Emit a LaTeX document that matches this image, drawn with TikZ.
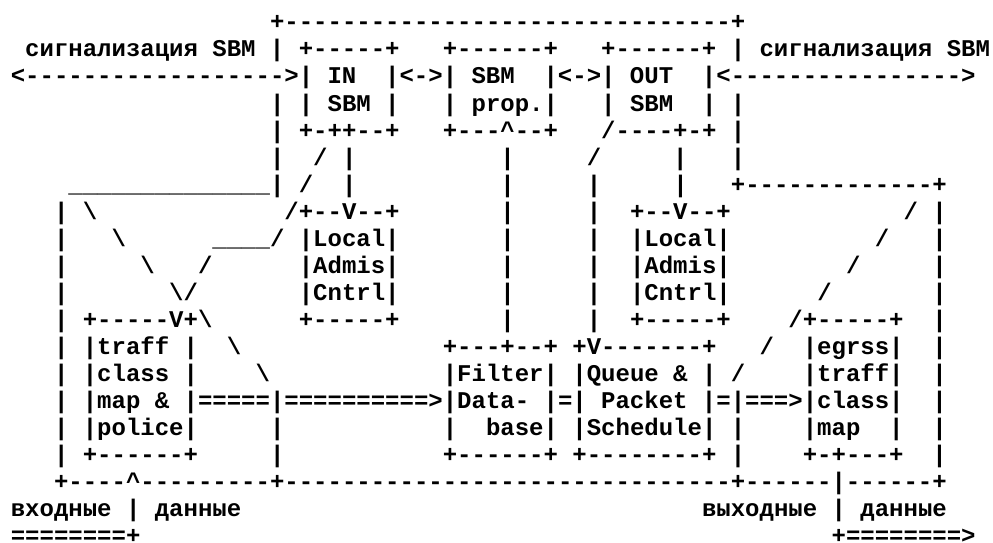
\documentclass[tikz,border=0pt]{standalone}
\usepackage{fontspec}
\setmonofont{Liberation Mono}
\usepackage{tikz}

% blank run of n character cells
\newcommand{\sk}[1]{\hspace*{\dimexpr 0.6em*#1\relax}}

\begin{document}
\begin{tikzpicture}[x=1pt, y=1pt,
		asciirow/.style={anchor=base west, inner sep=0pt, outer sep=0pt,
			font=\fontsize{24}{27}\selectfont\ttfamily\bfseries}]
			\useasboundingbox (0,0) rectangle (993,-543);

			% Draw the SBM part at the top
			\node[asciirow] (row1) at (10.8, -30) {\sk{18}+-------------------------------+};
			\node[asciirow] (row2) at (10.8, -57) {\sk{1}сигнализация SBM | +-----+\sk{3}+------+\sk{3}+------+ | сигнализация SBM};
			\node[asciirow] (row3) at (10.8, -84) {<------------------>| IN\sk{2}|<->| SBM\sk{2}|<->| OUT\sk{2}|<---------------->};
			\node[asciirow] (row4) at (10.8, -111) {\sk{18}| | SBM |\sk{3}| prop.|\sk{3}| SBM\sk{2}| |};
			\node[asciirow] (row5) at (10.8, -138) {\sk{18}| +-++--+\sk{3}+---\textasciicircum--+\sk{3}/----+-+ |};
			\node[asciirow] (row6) at (10.8, -165) {\sk{18}|\sk{2}/ |\sk{10}|\sk{5}/\sk{5}|\sk{3}|};
			\node[asciirow] (row7) at (10.8, -192) {\sk{4}\_\_\_\_\_\_\_\_\_\_\_\_\_\_| /\sk{2}|\sk{10}|\sk{5}|\sk{5}|\sk{3}+-------------+};

			% Draw the admission control boxes
			\node[asciirow] (row8) at (10.8, -219) {\sk{3}| \textbackslash\sk{13}/+--V--+\sk{7}|\sk{5}|\sk{2}+--V--+\sk{12}/ |};
			\node[asciirow] (row9) at (10.8, -246) {\sk{3}|\sk{3}\textbackslash\sk{6}\_\_\_\_/ |Local|\sk{7}|\sk{5}|\sk{2}|Local|\sk{10}/\sk{3}|};
			\node[asciirow] (row10) at (10.8, -273) {\sk{3}|\sk{5}\textbackslash\sk{3}/\sk{6}|Admis|\sk{7}|\sk{5}|\sk{2}|Admis|\sk{8}/\sk{5}|};
			\node[asciirow] (row11) at (10.8, -300) {\sk{3}|\sk{7}\textbackslash/\sk{7}|Cntrl|\sk{7}|\sk{5}|\sk{2}|Cntrl|\sk{6}/\sk{7}|};
			\node[asciirow] (row12) at (10.8, -327) {\sk{3}| +-----V+\textbackslash\sk{6}+-----+\sk{7}|\sk{5}|\sk{2}+-----+\sk{4}/+-----+\sk{2}|};

			% Draw the data path
			\node[asciirow] (row13) at (10.8, -354) {\sk{3}| |traff |\sk{2}\textbackslash\sk{14}+---+--+ +V-------+\sk{3}/\sk{2}|egrss|\sk{2}|};
			\node[asciirow] (row14) at (10.8, -381) {\sk{3}| |class |\sk{4}\textbackslash\sk{12}|Filter| |Queue \& | /\sk{4}|traff|\sk{2}|};
			\node[asciirow] (row15) at (10.8, -408) {\sk{3}| |map \& |=====|==========>|Data- |=| Packet |=|===>|class|\sk{2}|};
			\node[asciirow] (row16) at (10.8, -435) {\sk{3}| |police|\sk{5}|\sk{11}|\sk{2}base| |Schedule| |\sk{4}|map\sk{2}|\sk{2}|};
			\node[asciirow] (row17) at (10.8, -462) {\sk{3}| +------+\sk{5}|\sk{11}+------+ +--------+ |\sk{4}+-+---+\sk{2}|};
			\node[asciirow] (row18) at (10.8, -489) {\sk{3}+----\textasciicircum---------+-------------------------------+------|------+};

			% Draw the input and output data
			\node[asciirow] (row19) at (10.8, -516) {входные | данные\sk{32}выходные | данные};
			\node[asciirow] (row20) at (10.8, -543) {========+\sk{48}+========>};
		\end{tikzpicture}
\end{document}
